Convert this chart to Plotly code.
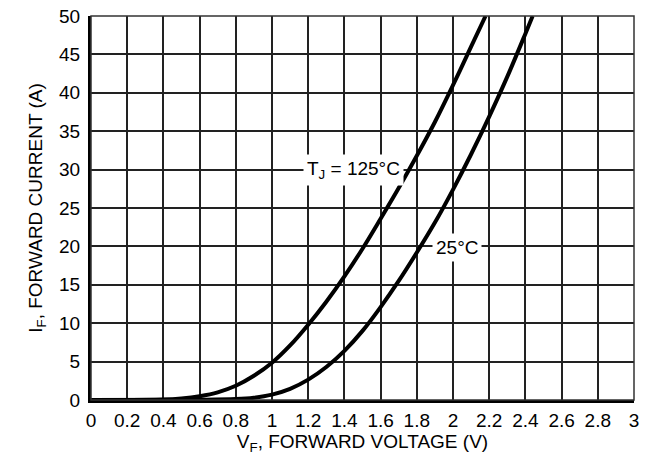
import plotly.graph_objects as go

# Forward voltage (V) and forward current (A)
vf_125 = [0.0, 0.4, 0.5, 0.6, 0.7, 0.8, 0.9, 1.0, 1.1, 1.2, 1.3, 1.4, 1.5, 1.6, 1.7, 1.8, 1.9, 2.0, 2.1, 2.18]
if_125 = [0.0, 0.05, 0.2, 0.5, 1.0, 1.85, 3.15, 4.85, 7.1, 9.8, 12.8, 16.1, 19.7, 23.6, 27.6, 31.8, 36.2, 41.0, 46.0, 50.0]

vf_25 = [0.0, 0.6, 0.8, 0.9, 1.0, 1.1, 1.2, 1.3, 1.4, 1.5, 1.6, 1.7, 1.8, 1.9, 2.0, 2.1, 2.2, 2.3, 2.4, 2.44]
if_25 = [0.0, 0.03, 0.12, 0.3, 0.7, 1.45, 2.65, 4.3, 6.4, 9.0, 12.1, 15.5, 19.2, 23.1, 27.4, 32.0, 36.9, 42.1, 47.7, 50.0]

x_ticks = [0, 0.2, 0.4, 0.6, 0.8, 1, 1.2, 1.4, 1.6, 1.8, 2, 2.2, 2.4, 2.6, 2.8, 3]
x_labels = ["0", "0.2", "0.4", "0.6", "0.8", "1", "1.2", "1.4", "1.6", "1.8", "2", "2.2", "2.4", "2.6", "2.8", "3"]
y_ticks = [0, 5, 10, 15, 20, 25, 30, 35, 40, 45, 50]

label_125 = "T<sub>J</sub> = 125°C"
label_25 = "25°C"

FONT = "Liberation Sans, Arial, sans-serif"
FS = 19

fig = go.Figure()
fig.add_trace(go.Scatter(x=vf_125, y=if_125, mode="lines",
                         line=dict(color="black", width=4, shape="spline", smoothing=1.0),
                         showlegend=False, hoverinfo="skip"))
fig.add_trace(go.Scatter(x=vf_25, y=if_25, mode="lines",
                         line=dict(color="black", width=4, shape="spline", smoothing=1.0),
                         showlegend=False, hoverinfo="skip"))

fig.add_annotation(x=1.45, y=30, text=label_125, showarrow=False,
                   font=dict(family=FONT, size=FS, color="black"),
                   bgcolor="white", borderpad=3)
fig.add_annotation(x=2.02, y=19.8, text=label_25, showarrow=False,
                   font=dict(family=FONT, size=FS, color="black"),
                   bgcolor="white", borderpad=3)

# top/right frame
fig.add_shape(type="rect", xref="paper", yref="paper", x0=0, y0=0, x1=1, y1=1,
              line=dict(color="#333", width=1.5), layer="above")

fig.update_xaxes(range=[0, 3], tickvals=x_ticks, ticktext=x_labels,
                 showgrid=True, gridcolor="#222", gridwidth=1.5,
                 zeroline=False, showline=True, linecolor="black", linewidth=3,
                 ticks="", ticklabelstandoff=1,
                 tickfont=dict(family=FONT, size=FS, color="black"),
                 title=dict(text="V<sub>F</sub>, FORWARD VOLTAGE (V)",
                            font=dict(family=FONT, size=FS, color="black"), standoff=5))
fig.update_yaxes(range=[0, 50], tickvals=y_ticks,
                 showgrid=True, gridcolor="#222", gridwidth=1.5,
                 zeroline=False, showline=True, linecolor="black", linewidth=3,
                 ticks="", ticklabelstandoff=4,
                 tickfont=dict(family=FONT, size=FS, color="black"),
                 title=dict(text="I<sub>F</sub>, FORWARD CURRENT (A)",
                            font=dict(family=FONT, size=FS, color="black"), standoff=12))

fig.update_layout(width=645, height=463,
                  margin=dict(l=91, r=6, t=15, b=63),
                  plot_bgcolor="white", paper_bgcolor="white",
                  font=dict(family=FONT, color="black"))

fig.write_html("out.html")
